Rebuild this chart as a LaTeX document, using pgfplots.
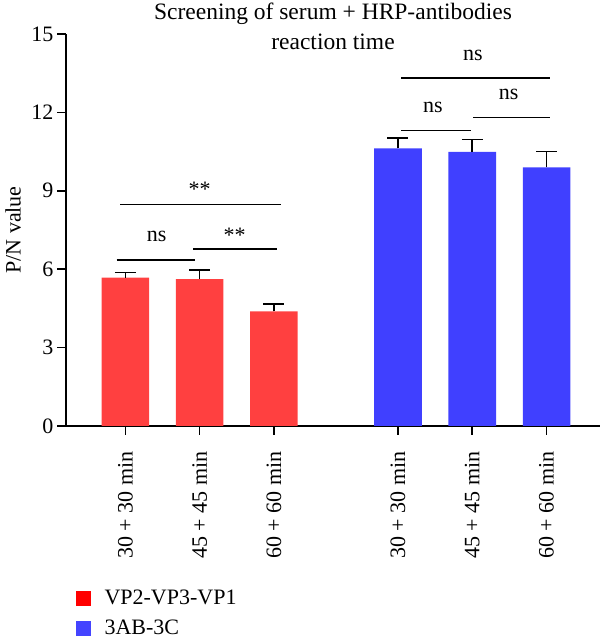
\documentclass[border=0pt]{standalone}
\usepackage{fontspec}
\setmainfont{Liberation Serif}
\usepackage{pgfplots}
\pgfplotsset{compat=1.18}
\definecolor{barred}{RGB}{255,64,64}
\definecolor{barblue}{RGB}{64,64,255}
\definecolor{legred}{RGB}{255,0,0}
\definecolor{legblue}{RGB}{68,68,255}
\newcommand{\chartfont}{\fontsize{22}{30}\selectfont}
\newcommand{\titlefont}{\fontsize{23.5}{30}\selectfont}

\begin{document}
\begin{tikzpicture}
\useasboundingbox (0,0) rectangle (600pt,639pt);
\begin{axis}[
  at={(66pt,213pt)}, anchor=south west,
  scale only axis, width=534pt, height=392pt,
  xmin=-0.8, xmax=6.39, ymin=0, ymax=15,
  axis lines=left,
  axis line style={-, line width=1.6pt, black},
  clip=false,
  ytick={0,3,...,15},
  xtick={0,1,2,3.67,4.67,5.67},
  xticklabels={30 + 30 min,45 + 45 min,60 + 60 min,30 + 30 min,45 + 45 min,60 + 60 min},
  tick align=outside,
  major tick length=9pt,
  tick style={line width=1.6pt, black},
  /pgf/number format/assume math mode=true,
  tick label style={font=\chartfont},
  xticklabel style={rotate=90, anchor=east},
  xticklabel shift=13pt,
  ylabel={P/N value},
  ylabel style={at={(axis description cs:-0.099,0.5)}, anchor=center, font=\chartfont},
  title={Screening of serum + HRP-antibodies\\reaction time},
  title style={at={(axis description cs:0.5,1.065)}, anchor=north, align=center, font=\titlefont, inner sep=0pt},
  legend style={at={(axis description cs:0.019,-0.413)}, anchor=north west, draw=none, fill=none,
    font=\chartfont, inner sep=0pt, row sep=10pt, legend cell align=left},
  legend image code/.code={\fill[#1] (0pt,-7pt) rectangle (14pt,7pt); \path[draw=none, fill=none] (0pt,0pt) -- (26pt,0pt);},
]
% VP2-VP3-VP1 group
\addplot[ybar, bar shift=0pt, bar width=0.64, fill=barred, draw=none, forget plot,
  error bars/.cd, y dir=plus, y explicit, error mark=|,
  error bar style={line width=1.6pt, black},
  error mark options={black, line width=1.6pt, mark size=10.5pt}]
  coordinates {(0,5.68) +- (0,0.19) (1,5.62) +- (0,0.36) (2,4.39) +- (0,0.28)};
% 3AB-3C group
\addplot[ybar, bar shift=0pt, bar width=0.64, fill=barblue, draw=none, forget plot,
  error bars/.cd, y dir=plus, y explicit, error mark=|,
  error bar style={line width=1.6pt, black},
  error mark options={black, line width=1.6pt, mark size=10.5pt}]
  coordinates {(3.67,10.62) +- (0,0.39) (4.67,10.49) +- (0,0.47) (5.67,9.90) +- (0,0.61)};

% significance brackets
\addplot[black, line width=1.6pt, forget plot] coordinates {(-0.07,8.47) (2.09,8.47)};
\addplot[black, line width=1.6pt, forget plot] coordinates {(-0.12,6.36) (0.935,6.36)};
\addplot[black, line width=1.6pt, forget plot] coordinates {(0.91,6.78) (2.035,6.78)};
\addplot[black, line width=1.6pt, forget plot] coordinates {(3.717,13.32) (5.71,13.32)};
\addplot[black, line width=1.6pt, forget plot] coordinates {(3.717,11.31) (4.65,11.31)};
\addplot[black, line width=1.6pt, forget plot] coordinates {(4.68,11.8) (5.71,11.8)};
\node[anchor=base, font=\chartfont] at (axis cs:1.0,8.8) {**};
\node[anchor=base, font=\chartfont] at (axis cs:0.42,7.05) {ns};
\node[anchor=base, font=\chartfont] at (axis cs:1.47,7.02) {**};
\node[anchor=base, font=\chartfont] at (axis cs:4.68,14.0) {ns};
\node[anchor=base, font=\chartfont] at (axis cs:4.14,12.0) {ns};
\node[anchor=base, font=\chartfont] at (axis cs:5.16,12.49) {ns};

\addlegendimage{legred}
\addlegendentry{VP2-VP3-VP1}
\addlegendimage{legblue}
\addlegendentry{3AB-3C}
\end{axis}
\end{tikzpicture}
\end{document}
